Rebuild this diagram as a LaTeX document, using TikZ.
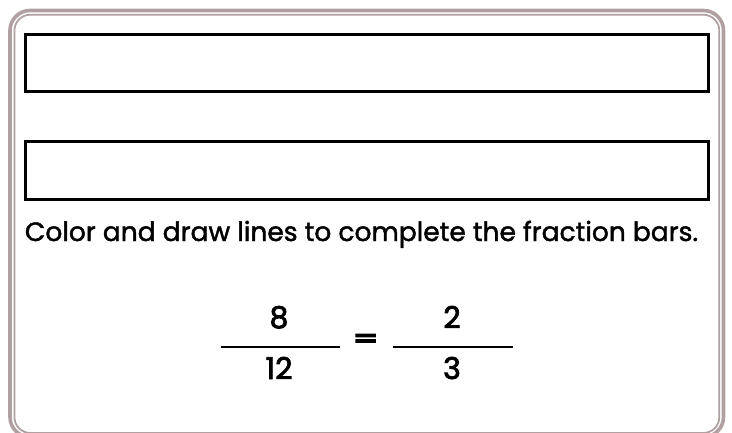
\documentclass[tikz,border=0pt]{standalone}
\usepackage{fontspec}
\setmainfont{Poppins}[FakeBold=1.6]
\newfontfamily\digitfont{Poppins}[FakeBold=2.6]
\newfontfamily\eqfont{Poppins}[FakeBold=7]
\begin{document}
\begin{tikzpicture}[x=1pt,y=1pt,
  frameline/.style={draw={rgb,255:red,176;green,160;blue,161}},
  answerbox/.style={draw=black,line width=2.6pt,minimum width=683.4pt,inner sep=0pt},
  fracbar/.style={line width=2.7pt,draw=black},
  digit/.style={font=\digitfont\fontsize{30}{30}\selectfont,anchor=base,inner sep=0pt}]
\useasboundingbox (0,0) rectangle (732,432);
\begin{scope}
\clip (0,0) rectangle (732,432);
\draw[frameline,line width=3.6pt,rounded corners=20pt] (10,421.5) rectangle (723.5,-5);
\draw[frameline,line width=1.8pt,rounded corners=16pt] (14.4,417.3) rectangle (719.3,-1);
\end{scope}
\node[answerbox,minimum height=56.6pt] (box1) at (367,369) {};
\node[answerbox,minimum height=58pt] (box2) at (367,261.3) {};
\node[anchor=base,inner sep=0pt] (instr) at (361.5,191)
  {\resizebox{673pt}{!}{Color and draw lines to complete the fraction bars.}};
\node[digit] (n1) at (279,104) {8};
\node[digit] (d1) at (279,53) {12};
\node[digit] (n2) at (452,104) {2};
\node[digit] (d2) at (452,53) {3};
\node[inner sep=0pt] (eq) at (365.6,91) {\resizebox{25pt}{13pt}{\eqfont =}};
\coordinate (l1a) at (221,85); \coordinate (l1b) at (340,85);
\coordinate (l2a) at (393,85); \coordinate (l2b) at (513,85);
\draw[fracbar] (l1a) -- (l1b);
\draw[fracbar] (l2a) -- (l2b);
\end{tikzpicture}
\end{document}
